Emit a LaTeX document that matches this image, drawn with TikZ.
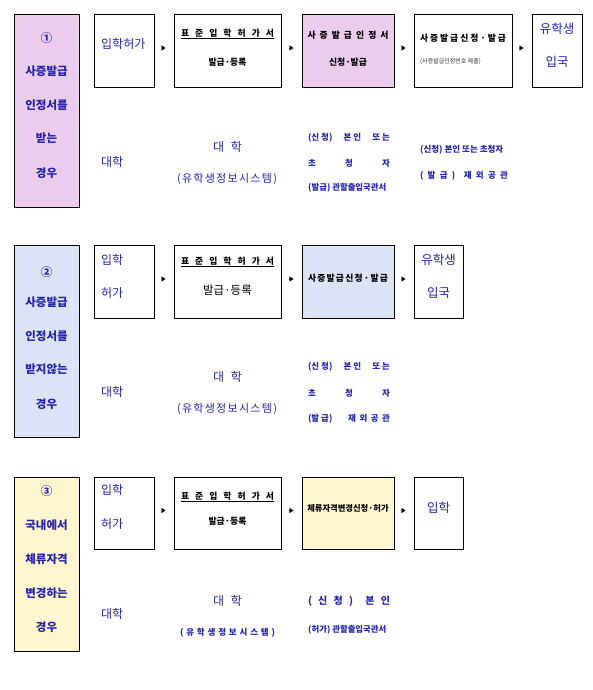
\documentclass[tikz,border=0pt]{standalone}
\usepackage{fontspec}
\setmainfont{Noto Sans CJK KR}
\usetikzlibrary{arrows.meta}
\definecolor{tblue}{RGB}{36,36,175}
\definecolor{pinkf}{RGB}{236,204,236}
\definecolor{bluef}{RGB}{221,227,246}
\definecolor{yelf}{RGB}{255,246,207}
\newcommand\fs[1]{\fontsize{#1}{#1}\selectfont}
\newcommand\spr[2]{\makebox[#1pt][s]{#2}}
\newcommand\hf{\hfill}
\newcommand\bx[6]{\node[boxst,fill=#6,minimum width={#4-#2},minimum height={#5-#3}] (#1) at (#2,#3) {};}
\begin{document}
\begin{tikzpicture}[x=1pt,y=-1pt,
 boxst/.style={draw=black,line width=0.9pt,inner sep=0pt,outer sep=0pt,anchor=north west},
 side/.style={text=tblue,font=\fs{11.5}\bfseries,inner sep=0pt},
 bt/.style={text=tblue,font=\fs{12},inner sep=0pt},
 kt/.style={text=black,font=\fs{8.8}\bfseries,inner sep=0pt},
 st/.style={text=tblue,font=\fs{8.5}\bfseries,inner sep=0pt},
 arr/.style={-{Triangle[length=4pt,width=5pt]},line width=0.4pt,shorten <=7.5pt,shorten >=8.5pt}]
\useasboundingbox (0,0) rectangle (593,690);
% ---------- row 1 ----------
\bx{L1}{14}{14}{79}{207}{pinkf}
\bx{A1}{94}{14}{154}{87}{white}
\bx{B1}{174}{14}{281}{87}{white}
\bx{C1}{302}{14}{394}{87}{pinkf}
\bx{D1}{414}{14}{512}{87}{white}
\bx{E1}{532}{14}{582}{87}{white}
\draw[arr] ([yshift=2.5pt]A1.east) -- ([yshift=2.5pt]B1.west);
\draw[arr] ([yshift=2.5pt]B1.east) -- ([yshift=2.5pt]C1.west);
\draw[arr] ([yshift=2.5pt]C1.east) -- ([yshift=2.5pt]D1.west);
\draw[arr] ([yshift=2.5pt]D1.east) -- ([yshift=2.5pt]E1.west);
\node[side] (l1a) at (46.5,38) {①};
\node[side] (l1b) at (46.5,71.7) {사증발급};
\node[side] (l1c) at (46.5,105) {인정서를};
\node[side] (l1d) at (46.5,138) {받는};
\node[side] (l1e) at (46.5,173) {경우};
\node[bt,anchor=west] (a1t) at (101,44) {입학허가};
\node[bt,anchor=west] (a1u) at (101,161.7) {대학};
\node[kt] (b1t) at (227.5,34) {\underline{\spr{93}{표\hf 준\hf 입\hf 학\hf 허\hf 가\hf 서}}};
\node[kt] (b1u) at (227.5,62) {발급·등록};
\node[bt] (b1v) at (227.5,147) {\spr{29}{대\hf 학}};
\node[bt,font=\fs{11}] (b1w) at (227,179) {\spr{100}{(\hf 유\hf 학\hf 생\hf 정\hf 보\hf 시\hf 스\hf 템\hf )}};
\node[kt] (c1t) at (348,35) {\spr{81}{사\hf 증\hf 발\hf 급\hf 인\hf 정\hf 서}};
\node[kt] (c1u) at (348,62) {신청·발급};
\node[kt] (d1t) at (463,38) {\spr{86}{사\hf 증\hf 발\hf 급\hf 신\hf 청\hf ·\hf 발\hf 급}};
\node[anchor=west,font=\fs{6},text=black!80,inner sep=0pt] (d1u) at (420,62) {(사증발급인정번호 제출)};
\node[bt,font=\fs{12.5}] (e1t) at (557,29) {유학생};
\node[bt,font=\fs{12.5}] (e1u) at (557,62) {입국};
\node[st] (c1v) at (349,137.7) {\spr{82}{(신\hspace{2pt}청)\hf 본\hspace{2pt}인\hf 또\hspace{2pt}는}};
\node[st] (c1w) at (349,163) {\spr{82}{초\hf 청\hf 자}};
\node[st,font=\fs{8.4}\bfseries,anchor=west] (c1x) at (308,188) {(발급) 관할출입국관서};
\node[st,anchor=west] (d1v) at (420,150) {(신청) 본인 또는 초청자};
\node[st] (d1w) at (464,176) {\spr{88}{(\hf 발\hf 급\hf )\hf\hf 재\hf 외\hf 공\hf 관}};
% ---------- row 2 ----------
\bx{L2}{14}{245}{79}{437}{bluef}
\bx{A2}{94}{245}{154}{318}{white}
\bx{B2}{174}{245}{281}{318}{white}
\bx{C2}{302}{245}{394}{318}{bluef}
\bx{D2}{414}{245}{463}{318}{white}
\draw[arr] ([yshift=2.5pt]A2.east) -- ([yshift=2.5pt]B2.west);
\draw[arr] ([yshift=2.5pt]B2.east) -- ([yshift=2.5pt]C2.west);
\draw[arr] ([yshift=2.5pt]C2.east) -- ([yshift=2.5pt]D2.west);
\node[side] (l2a) at (46.5,272) {②};
\node[side] (l2b) at (46.5,302.7) {사증발급};
\node[side] (l2c) at (46.5,336.5) {인정서를};
\node[side] (l2d) at (46.5,369) {받지않는};
\node[side] (l2e) at (46.5,404) {경우};
\node[bt,anchor=west] (a2t) at (101,260) {입학};
\node[bt,anchor=west] (a2u) at (101,293) {허가};
\node[bt,anchor=west] (a2v) at (101,391.7) {대학};
\node[kt] (b2t) at (227.5,262) {\underline{\spr{93}{표\hf 준\hf 입\hf 학\hf 허\hf 가\hf 서}}};
\node[text=black,font=\fs{11.5},inner sep=0pt] (b2u) at (227.5,290) {발급·등록};
\node[bt] (b2v) at (227.5,376.7) {\spr{29}{대\hf 학}};
\node[bt,font=\fs{11}] (b2w) at (227,409) {\spr{100}{(\hf 유\hf 학\hf 생\hf 정\hf 보\hf 시\hf 스\hf 템\hf )}};
\node[kt] (c2t) at (348,278.3) {\spr{80}{사\hf 증\hf 발\hf 급\hf 신\hf 청\hf ·\hf 발\hf 급}};
\node[bt,font=\fs{12.5}] (d2t) at (438.5,260) {유학생};
\node[bt,font=\fs{12.5}] (d2u) at (438.5,292.7) {입국};
\node[st] (c2v) at (349,367) {\spr{82}{(신\hspace{2pt}청)\hf 본\hspace{2pt}인\hf 또\hspace{2pt}는}};
\node[st] (c2w) at (349,393) {\spr{82}{초\hf 청\hf 자}};
\node[st] (c2x) at (349,419) {\spr{82}{(발\hspace{2pt}급)\hf 재\hspace{3.5pt}외\hspace{3.5pt}공\hspace{3.5pt}관}};
% ---------- row 3 ----------
\bx{L3}{14}{477}{79}{651}{yelf}
\bx{A3}{94}{477}{154}{549}{white}
\bx{B3}{174}{477}{281}{549}{white}
\bx{C3}{302}{477}{394}{549}{yelf}
\bx{D3}{414}{477}{463}{549}{white}
\draw[arr] ([yshift=2.5pt]A3.east) -- ([yshift=2.5pt]B3.west);
\draw[arr] ([yshift=2.5pt]B3.east) -- ([yshift=2.5pt]C3.west);
\draw[arr] ([yshift=2.5pt]C3.east) -- ([yshift=2.5pt]D3.west);
\node[side] (l3a) at (46.5,491) {③};
\node[side] (l3b) at (46.5,525) {국내에서};
\node[side] (l3c) at (46.5,559.3) {체류자격};
\node[side] (l3d) at (46.5,592.7) {변경하는};
\node[side] (l3e) at (46.5,627.3) {경우};
\node[bt,anchor=west] (a3t) at (101,490) {입학};
\node[bt,anchor=west] (a3u) at (101,524.3) {허가};
\node[bt,anchor=west] (a3v) at (101,614.3) {대학};
\node[kt] (b3t) at (227.5,497) {\underline{\spr{93}{표\hf 준\hf 입\hf 학\hf 허\hf 가\hf 서}}};
\node[kt] (b3u) at (227.5,521.7) {발급·등록};
\node[bt] (b3v) at (227.5,601) {\spr{29}{대\hf 학}};
\node[st] (b3w) at (227.5,632.7) {\spr{95}{(\hf 유\hf 학\hf 생\hf 정\hf 보\hf 시\hf 스\hf 템\hf )}};
\node[kt,font=\fs{8.3}\bfseries] (c3t) at (348,508.3) {체류자격변경신청·허가};
\node[bt,font=\fs{12.5}] (d3t) at (438.5,507.3) {입학};
\node[st,font=\fs{10}\bfseries] (c3v) at (349,601) {\spr{82}{(\hf 신\hf 청\hf )\hf\hf 본\hf 인}};
\node[st,font=\fs{8.4}\bfseries,anchor=west] (c3w) at (308,630) {(허가) 관할출입국관서};
\end{tikzpicture}
\end{document}
